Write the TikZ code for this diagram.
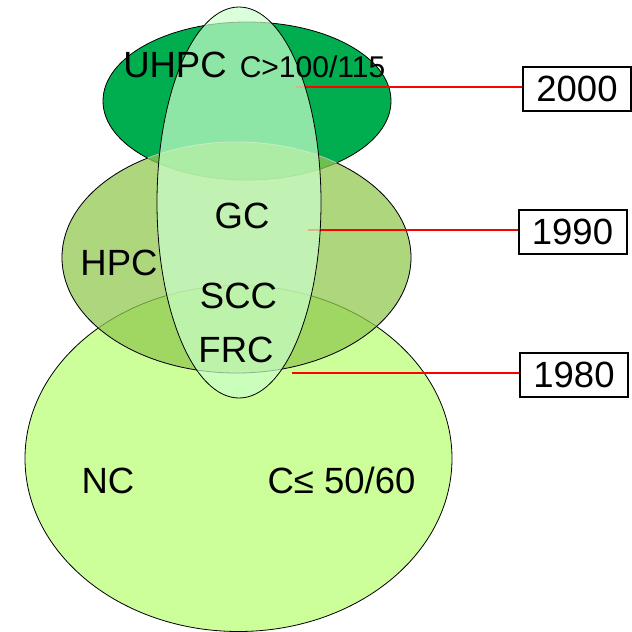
\documentclass[tikz,border=0pt]{standalone}
\usepackage{fontspec}
\setmainfont{Liberation Sans}
\definecolor{cNc}{RGB}{204,255,153}
\definecolor{cHpc}{RGB}{145,200,80}
\definecolor{cUhpc}{RGB}{0,173,79}
\definecolor{cSpec}{RGB}{202,255,202}
\definecolor{cYear}{RGB}{255,0,0}
\tikzset{
  lbl/.style={anchor=base,inner sep=0pt,font=\fontsize{36.5}{40}\selectfont},
  yearbox/.style={draw=black,line width=2pt,minimum width=108pt,minimum height=44pt,
    inner sep=0pt,font=\fontsize{36.5}{40}\selectfont},
  yearline/.style={draw=cYear,line width=2pt}
}
\begin{document}
\begin{tikzpicture}[x=1pt,y=-1pt]
  \useasboundingbox (0,0) rectangle (632,632);
  % UHPC ellipse (top)
  \filldraw[fill=cUhpc,draw=black,line width=0.8pt]
    (247,101) ellipse (144 and 79);
  % NC ellipse (bottom)
  \filldraw[fill=cNc,draw=black,line width=0.8pt]
    (238.5,458.5) ellipse (213.5 and 173);
  % HPC ellipse (middle), outline hidden inside UHPC
  \fill[cHpc,fill opacity=0.74]
    (236.5,257.5) ellipse (174.5 and 115.5);
  \draw[black!25,line width=0.8pt]
    (236.5,257.5) ellipse (174.5 and 115.5);
  \begin{scope}[even odd rule]
    \clip (0,0) rectangle (632,632)
      (247,101) ellipse (144 and 79);
    \draw[black,line width=0.8pt]
      (236.5,257.5) ellipse (174.5 and 115.5);
  \end{scope}
  % year markers
  \node[yearbox] (y2000) at (577,89) {2000};
  \node[yearbox] (y1990) at (572.5,231.5) {1990};
  \node[yearbox] (y1980) at (574,375) {1980};
  \coordinate (t2000) at (296,87);
  \coordinate (t1990) at (308,230);
  \coordinate (t1980) at (292,373);
  \draw[yearline] (t2000) -- (t2000 -| y2000.west);
  \draw[yearline] (t1990) -- (t1990 -| y1990.west);
  \draw[yearline] (t1980) -- (t1980 -| y1980.west);
  % special concretes (vertical ellipse)
  \filldraw[fill=cSpec,fill opacity=0.7,draw=black,line width=0.8pt]
    (239,202.5) ellipse (82 and 195.5);
  % labels
  \node[lbl] (uhpc) at (175,77) {UHPC};
  \node[lbl,font=\fontsize{30}{34}\selectfont] (cuhpc) at (312.5,77) {C>100/115};
  \node[lbl] (gc) at (242,228) {GC};
  \node[lbl] (hpc) at (119,275) {HPC};
  \node[lbl] (scc) at (238.5,308) {SCC};
  \node[lbl] (frc) at (236,362) {FRC};
  \node[lbl] (nc) at (108,493) {NC};
  \node[lbl] (cnc) at (341.5,493) {C≤ 50/60};
\end{tikzpicture}
\end{document}
